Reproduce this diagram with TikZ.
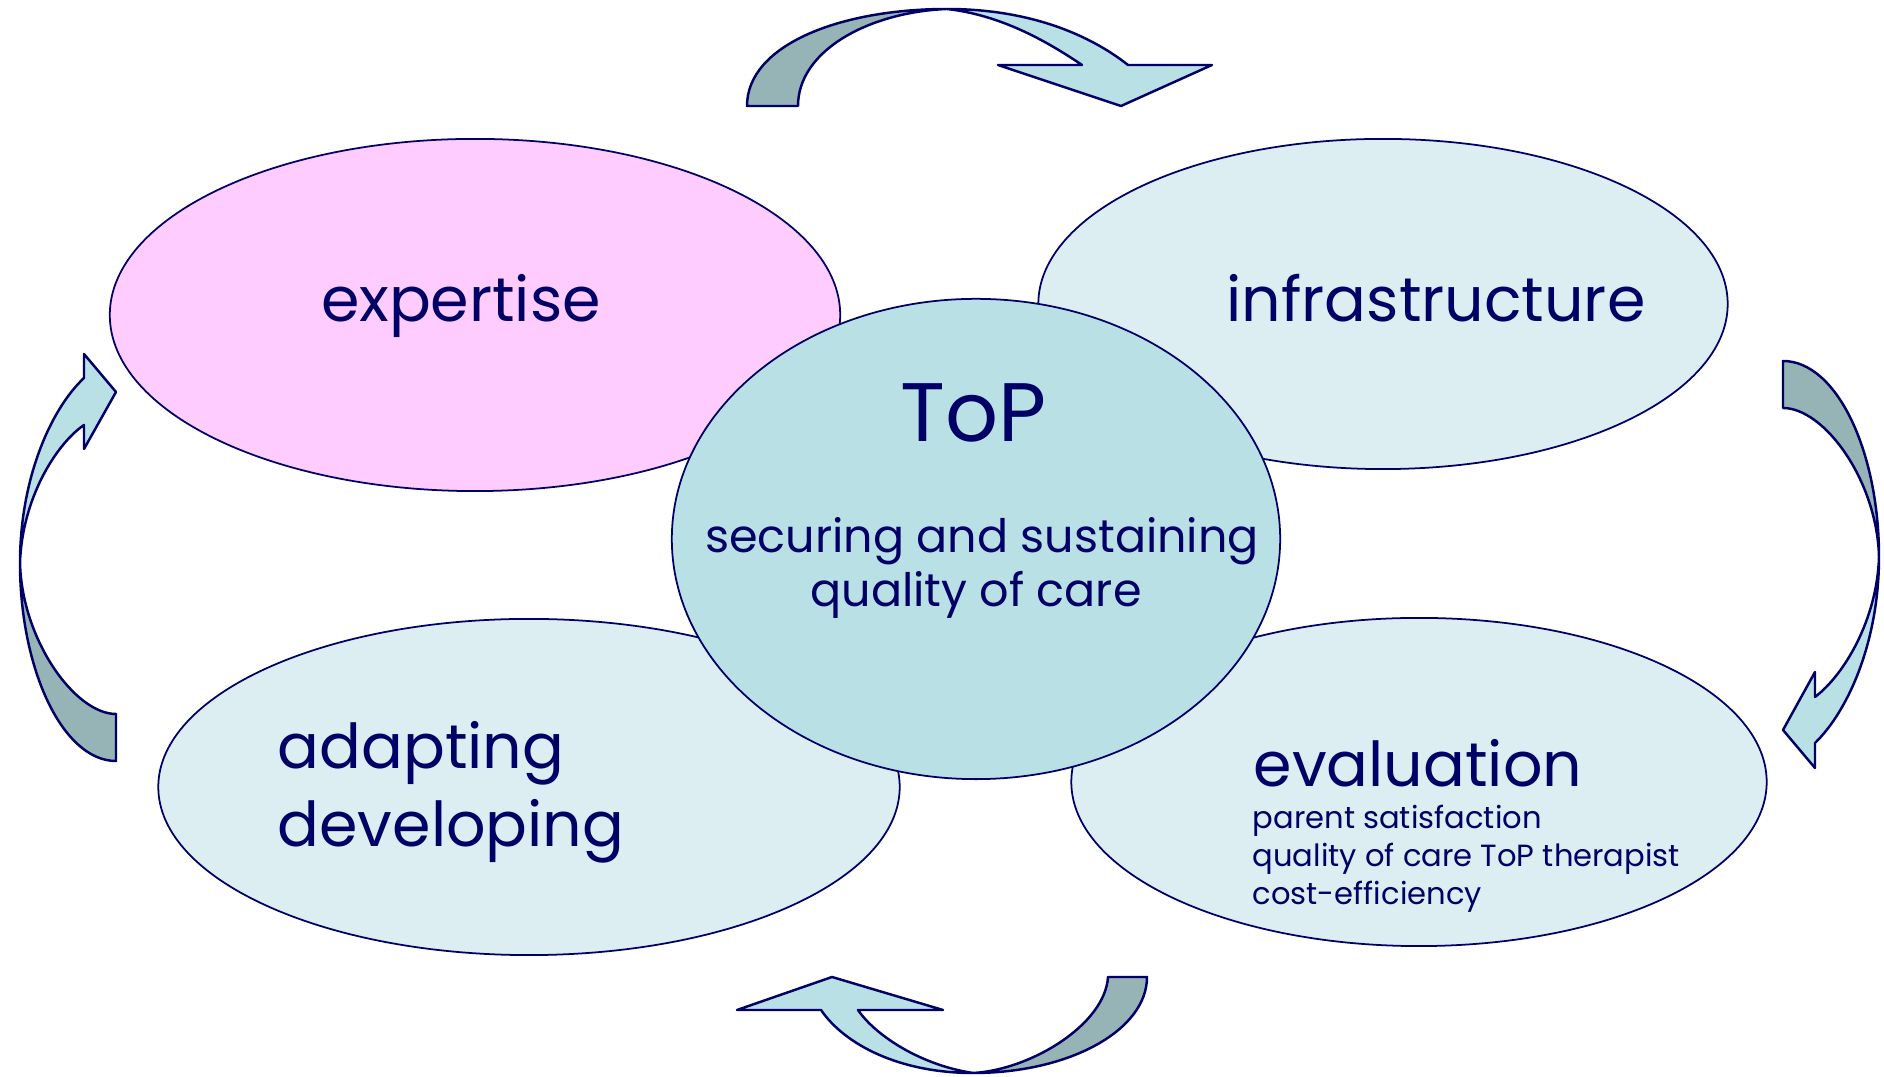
\documentclass[tikz,border=0pt]{standalone}
\usepackage{fontspec}
\setmainfont{Poppins}
\usetikzlibrary{shapes.geometric}
\definecolor{navy}{HTML}{000066}
\definecolor{pinkfill}{HTML}{FFCCFF}
\definecolor{palefill}{HTML}{DDEEF2}
\definecolor{topfill}{HTML}{B9E0E4}
\definecolor{tailfill}{HTML}{96B3B6}
\begin{document}
\begin{tikzpicture}[x=0.01cm,y=-0.01cm,line join=round,line cap=round,
	blob/.style={ellipse,draw=navy,line width=0.5pt,inner sep=0pt,fill=palefill},
	tailpart/.style={fill=tailfill,draw=navy,line width=0.7pt},
	headpart/.style={fill=topfill,draw=navy,line width=0.7pt},
	big/.style={text=navy,inner sep=0pt,font=\fontsize{17.6}{21}\selectfont},
	small/.style={text=navy,inner sep=0pt,anchor=base west,font=\fontsize{8.7}{10}\selectfont}]
	\useasboundingbox (0,0) rectangle (1884,1077);
	% the four outer fields
	\node[blob,fill=pinkfill,minimum width=7.3cm,minimum height=3.52cm] (expert) at (475,315) {};
	\node[blob,minimum width=6.89cm,minimum height=3.3cm] (infra) at (1383,304) {};
	\node[blob,minimum width=7.41cm,minimum height=3.36cm] (adapt) at (529,787) {};
	\node[blob,minimum width=6.95cm,minimum height=3.28cm] (eval) at (1419,782) {};
	% centre
	\node[blob,fill=topfill,minimum width=6.08cm,minimum height=4.8cm] (top) at (976,539) {};
	% labels
	\node[big,anchor=base] (expertL) at (461,322) {expertise};
	\node[big,anchor=base] (infraL) at (1436,322) {infrastructure};
	\node[big,anchor=base,font=\fontsize{23.6}{28}\selectfont] (topL) at (974,442) {ToP};
	\node[big,anchor=base,font=\fontsize{13.1}{16}\selectfont] (topA) at (982,553) {securing and sustaining};
	\node[big,anchor=base,font=\fontsize{13.1}{16}\selectfont] (topB) at (976,607) {quality of care};
	\node[big,anchor=base west] (adaptA) at (277,769) {adapting};
	\node[big,anchor=base west] (adaptB) at (277,847) {developing};
	\node[big,anchor=base west] (evalL) at (1253,787) {evaluation};
	\foreach \t/\y in {parent satisfaction/829,quality of care ToP therapist/867,cost-efficiency/905}
		\node[small] (eval\y) at (1252,\y) {\t};
	% curved arrows, top
	\filldraw[tailpart] (747,106) .. controls (747,45) and (840,9) .. (947,9)
		.. controls (870,12) and (798,50) .. (798,106) -- cycle;
	\filldraw[headpart] (947,9) .. controls (1030,9) and (1090,35) .. (1128,65)
		-- (1212,65) -- (1121,106) -- (998,65) -- (1082,65)
		.. controls (1045,40) and (1000,15) .. (947,9) -- cycle;
	% right
	\filldraw[tailpart] (1783,361) .. controls (1836,361) and (1879,450) .. (1879,557)
		.. controls (1877,480) and (1824,408) .. (1783,408) -- cycle;
	\filldraw[headpart] (1879,557) .. controls (1879,640) and (1849,710) .. (1815,743)
		-- (1815,768) -- (1783,730) -- (1815,672) -- (1815,697)
		.. controls (1844,675) and (1877,620) .. (1879,557) -- cycle;
	% bottom
	\filldraw[tailpart] (1147,977) .. controls (1147,1030) and (1070,1073) .. (973,1073)
		.. controls (1030,1070) and (1105,1025) .. (1108,977) -- cycle;
	\filldraw[headpart] (973,1073) .. controls (900,1073) and (845,1045) .. (821,1010)
		-- (737,1010) -- (832,977) -- (943,1010) -- (858,1010)
		.. controls (875,1035) and (920,1065) .. (973,1073) -- cycle;
	% left
	\filldraw[tailpart] (116,761) .. controls (63,761) and (20,670) .. (20,563)
		.. controls (22,640) and (75,714) .. (116,714) -- cycle;
	\filldraw[headpart] (20,563) .. controls (20,480) and (50,410) .. (84,378)
		-- (84,354) -- (116,392) -- (84,449) -- (84,425)
		.. controls (55,445) and (22,500) .. (20,563) -- cycle;
\end{tikzpicture}
\end{document}
